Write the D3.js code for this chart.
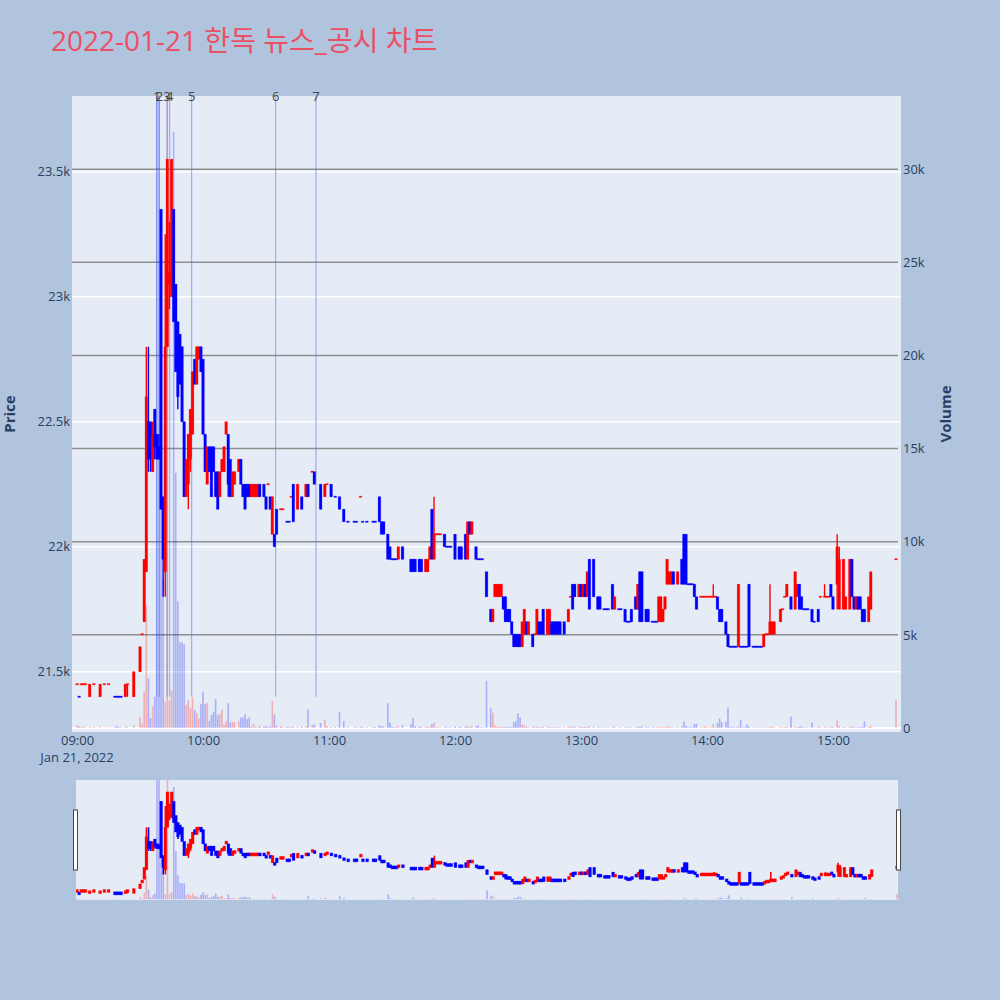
<!DOCTYPE html>
<html>
<head>
<meta charset="utf-8">
<script src="https://cdn.jsdelivr.net/npm/d3@7"></script>
<style>
  body { margin: 0; background: #b0c4de; }
  svg { display: block; font-family: "Open Sans", "Noto Sans CJK KR", sans-serif; }
</style>
</head>
<body>
<div id="chart"></div>
<script>
const titleText = "2022-01-21 한독 뉴스_공시 차트";

// minutes after 09:00 for each one-minute candle
const minutes = [
  0,1,2,3,4,6,8,11,13,15,
  18,19,20,21,23,24,27,30,31,32,
  33,34,35,36,37,38,39,40,41,42,
  43,44,45,46,47,48,49,50,51,52,
  53,54,55,56,57,58,59,60,61,62,
  63,64,65,66,67,68,69,70,71,72,
  73,74,75,77,78,79,80,81,82,83,
  84,85,86,87,89,90,91,92,93,94,
  95,97,98,100,101,102,103,105,107,109,
  110,112,113,116,118,119,121,123,125,127,
  129,132,133,135,136,138,141,142,144,145,
  146,148,149,150,151,152,153,155,159,160,
  161,163,164,166,167,168,169,170,171,172,
  173,175,176,177,178,180,182,183,185,186,
  187,188,190,191,192,193,195,197,198,199,
  200,201,202,203,204,205,206,207,208,209,
  210,211,212,213,214,215,217,218,219,220,
  221,222,224,225,226,227,228,229,230,232,
  234,235,236,237,239,240,241,242,243,244,
  246,248,249,251,252,253,255,256,258,259,
  261,262,263,264,266,267,268,269,271,272,
  274,275,276,277,278,279,280,281,282,283,
  284,286,288,289,290,291,292,293,294,295,
  297,298,299,300,301,302,303,304,305,306,
  307,309,310,311,312,313,314,315,316,317,
  318,319,320,322,323,324,325,326,327,328,
  329,330,331,332,335,336,337,338,340,342,
  343,344,345,346,347,348,350,351,353,354,
  356,357,358,359,360,362,363,365,366,368,
  369,370,371,372,373,374,375,377,378,390
];

const opens = [
  21450,21400,21450,21450,21450,21400,21450,21400,21450,21450,
  21400,21400,21400,21400,21400,21450,21400,21500,21650,21700,
  21900,22500,22500,22300,22550,22450,22400,23350,22200,21900,
  22800,23050,23000,23350,23050,22900,22850,22800,22500,22200,
  22250,22350,22450,22750,22650,22750,22800,22750,22450,22250,
  22400,22400,22400,22300,22300,22200,22300,22300,22450,22450,
  22350,22200,22250,22300,22350,22250,22250,22250,22250,22200,
  22200,22200,22200,22250,22250,22200,22250,22200,22050,22050,
  22150,22150,22150,22100,22100,22200,22250,22150,22200,22200,
  22250,22300,22300,22250,22200,22250,22250,22200,22200,22150,
  22100,22100,22100,22200,22100,22100,22100,22100,22200,22100,
  22100,22050,22000,21950,21950,21950,21950,22000,21950,21950,
  21950,21950,21950,21900,21900,21950,22150,21950,22050,22050,
  22050,22050,22000,22000,22000,22050,22000,22000,22050,21950,
  22100,22050,22000,21950,21950,21950,21900,21750,21700,21800,
  21800,21800,21800,21800,21800,21750,21750,21700,21650,21650,
  21650,21650,21600,21650,21700,21650,21650,21650,21650,21700,
  21700,21750,21650,21650,21700,21700,21700,21700,21700,21700,
  21700,21800,21850,21850,21800,21850,21800,21850,21800,21950,
  21950,21800,21800,21750,21750,21750,21850,21750,21750,21750,
  21750,21700,21700,21750,21800,21750,21900,21900,21750,21750,
  21700,21700,21700,21700,21700,21700,21750,21850,21850,21850,
  21900,21850,21950,22050,22050,21850,21850,21850,21850,21800,
  21800,21800,21800,21800,21800,21800,21800,21800,21800,21750,
  21750,21700,21650,21600,21600,21600,21600,21600,21600,21600,
  21600,21600,21850,21600,21600,21600,21600,21600,21600,21650,
  21650,21650,21650,21650,21700,21750,21800,21800,21800,21750,
  21800,21850,21800,21750,21750,21750,21750,21700,21750,21800,
  21800,21800,21800,21850,21800,21850,21750,21750,21750,21750,
  21950,21800,21750,21800,21800,21750,21750,21700,21750,21950
];

const highs = [
  21450,21400,21450,21450,21450,21450,21450,21450,21450,21450,
  21400,21400,21400,21400,21450,21450,21500,21600,21650,21950,
  22800,22800,22500,22500,22550,22450,22450,23350,22200,23250,
  23550,23300,23550,23350,23050,22900,22850,22800,22500,22350,
  22450,22550,22700,22750,22800,22800,22800,22750,22450,22400,
  22400,22400,22400,22300,22300,22300,22350,22400,22500,22450,
  22350,22300,22300,22350,22350,22250,22250,22250,22250,22250,
  22250,22250,22250,22250,22250,22200,22250,22200,22200,22050,
  22150,22150,22150,22100,22100,22200,22250,22250,22200,22250,
  22250,22300,22300,22250,22250,22250,22250,22200,22200,22150,
  22100,22100,22100,22200,22100,22100,22100,22100,22200,22100,
  22100,22050,22000,21950,21950,21950,22000,22000,21950,21950,
  21950,21950,21950,21950,21950,22000,22150,22200,22050,22050,
  22050,22050,22000,22000,22000,22050,22000,22000,22050,22100,
  22100,22100,22000,21950,21950,21950,21900,21750,21750,21850,
  21850,21850,21850,21800,21800,21750,21750,21700,21650,21650,
  21650,21650,21700,21750,21700,21700,21650,21650,21750,21700,
  21700,21750,21750,21750,21700,21700,21700,21700,21700,21700,
  21750,21800,21850,21850,21850,21850,21850,21850,21900,21950,
  21950,21800,21800,21750,21750,21750,21850,21800,21750,21750,
  21750,21700,21700,21750,21800,21850,21900,21900,21750,21750,
  21700,21700,21700,21800,21800,21750,21800,21950,21900,21900,
  21900,21900,21950,22050,22050,21850,21850,21850,21850,21800,
  21800,21800,21800,21800,21800,21800,21850,21800,21800,21750,
  21750,21700,21650,21600,21600,21600,21600,21850,21600,21600,
  21600,21600,21850,21600,21600,21600,21600,21600,21650,21650,
  21650,21850,21700,21700,21750,21750,21800,21850,21800,21900,
  21850,21850,21800,21750,21750,21750,21750,21700,21750,21800,
  21850,21800,21800,21850,21800,22050,22000,21950,21800,21950,
  21950,21800,21800,21800,21800,21750,21750,21800,21900,21950
];

const lows = [
  21450,21400,21450,21450,21450,21400,21450,21400,21450,21450,
  21400,21400,21400,21400,21400,21400,21400,21500,21650,21700,
  21900,22300,22300,22300,22350,22350,22350,22150,21800,21800,
  22800,22950,23000,22900,22700,22550,22650,22500,22200,22200,
  22150,22300,22450,22650,22650,22750,22700,22450,22300,22250,
  22300,22200,22300,22200,22150,22200,22300,22300,22450,22200,
  22200,22200,22250,22300,22250,22200,22150,22200,22200,22200,
  22200,22200,22200,22200,22200,22150,22250,22150,22050,22000,
  22050,22150,22150,22100,22100,22200,22100,22150,22150,22200,
  22200,22300,22250,22150,22200,22250,22200,22200,22150,22100,
  22100,22100,22100,22200,22100,22100,22100,22100,22100,22050,
  22050,21950,21950,21950,21950,21950,21950,21950,21900,21900,
  21900,21900,21900,21900,21900,21950,21950,21950,22050,22050,
  22050,22000,22000,22000,22000,21950,21950,21950,21950,21950,
  22050,22050,21950,21950,21950,21950,21800,21700,21700,21800,
  21800,21800,21800,21750,21700,21700,21700,21650,21600,21600,
  21600,21600,21600,21650,21650,21650,21600,21650,21650,21650,
  21650,21650,21650,21650,21650,21650,21650,21650,21650,21650,
  21700,21800,21750,21800,21800,21800,21800,21800,21800,21750,
  21800,21750,21750,21750,21750,21750,21750,21750,21750,21750,
  21700,21700,21700,21700,21750,21750,21700,21700,21700,21700,
  21700,21700,21700,21700,21700,21700,21750,21850,21850,21850,
  21850,21850,21850,21850,21850,21850,21850,21850,21800,21750,
  21800,21800,21800,21800,21800,21800,21800,21800,21750,21700,
  21700,21650,21600,21600,21600,21600,21600,21600,21600,21600,
  21600,21600,21600,21600,21600,21600,21600,21600,21600,21650,
  21650,21650,21650,21650,21700,21750,21800,21800,21750,21750,
  21800,21750,21750,21750,21750,21750,21700,21700,21700,21800,
  21800,21800,21800,21800,21750,21750,21750,21750,21750,21750,
  21800,21750,21750,21750,21750,21700,21700,21700,21750,21950
];

const closes = [
  21450,21400,21450,21450,21450,21450,21450,21450,21450,21450,
  21400,21400,21400,21400,21450,21450,21500,21600,21650,21950,
  22600,22350,22350,22450,22400,22350,22350,22150,21950,22800,
  23550,23100,23550,22900,22700,22600,22650,22500,22200,22350,
  22450,22550,22700,22650,22800,22800,22700,22450,22300,22400,
  22300,22200,22300,22200,22150,22300,22350,22400,22500,22250,
  22200,22300,22300,22350,22250,22200,22150,22200,22200,22250,
  22250,22250,22250,22200,22200,22150,22250,22150,22200,22000,
  22050,22150,22150,22100,22100,22200,22100,22250,22150,22250,
  22200,22300,22250,22150,22250,22250,22200,22200,22150,22100,
  22100,22100,22100,22200,22100,22100,22100,22100,22100,22050,
  22050,21950,21950,21950,21950,21950,22000,21950,21900,21900,
  21900,21900,21900,21950,21950,22000,21950,22050,22050,22050,
  22050,22000,22000,22000,22000,21950,21950,21950,21950,22100,
  22050,22100,21950,21950,21950,21950,21800,21700,21750,21850,
  21850,21850,21850,21750,21700,21700,21700,21650,21600,21600,
  21600,21600,21700,21750,21650,21700,21600,21650,21750,21650,
  21650,21650,21750,21750,21650,21650,21650,21650,21650,21650,
  21750,21800,21750,21800,21850,21800,21850,21800,21900,21750,
  21800,21750,21750,21750,21750,21750,21750,21800,21750,21750,
  21700,21700,21700,21700,21750,21850,21700,21700,21700,21700,
  21700,21700,21700,21800,21800,21750,21800,21950,21900,21900,
  21850,21900,21850,21850,21850,21850,21850,21850,21800,21750,
  21800,21800,21800,21800,21800,21800,21800,21800,21750,21700,
  21700,21650,21600,21600,21600,21600,21600,21850,21600,21600,
  21600,21600,21600,21600,21600,21600,21600,21600,21650,21650,
  21650,21700,21700,21700,21750,21750,21800,21850,21750,21900,
  21850,21750,21750,21750,21750,21750,21700,21700,21700,21800,
  21800,21800,21800,21800,21750,22000,21950,21950,21800,21950,
  21800,21750,21800,21750,21750,21700,21700,21800,21900,21950
];

const volumes = [
  150,80,50,50,50,60,40,60,30,30,
  50,120,40,40,60,50,150,600,250,1950,
  6600,2670,540,1180,1680,36000,35000,12000,8000,1400,
  36000,1500,2000,32000,13700,6800,4600,4600,4500,1240,
  1500,1070,1660,970,790,520,1290,1950,1290,1340,
  380,700,880,1560,700,760,970,190,370,1330,
  300,330,330,370,560,560,740,470,580,80,
  230,60,50,120,80,100,60,80,1450,740,
  110,110,50,60,40,50,60,50,60,80,
  1000,160,190,270,430,110,60,50,880,370,
  50,40,40,60,50,40,50,40,150,100,
  80,1330,300,60,40,40,100,150,200,540,
  100,80,60,60,60,50,200,300,50,40,
  40,50,40,30,30,80,60,50,80,100,
  60,100,80,150,40,40,2540,1060,820,150,
  80,60,60,50,80,60,50,60,330,370,
  790,575,200,150,60,50,80,50,60,40,
  40,60,60,50,40,40,40,40,40,40,
  60,100,60,50,50,50,50,60,60,80,
  60,40,40,30,30,30,60,50,30,30,
  40,30,30,40,50,60,80,80,40,40,
  30,30,30,60,50,40,40,100,60,50,
  40,50,80,340,120,40,40,40,220,220,
  40,40,80,30,30,30,220,40,270,520,
  320,340,1090,40,40,40,40,80,430,40,
  40,200,80,30,30,30,30,30,50,30,
  30,60,50,40,50,30,40,60,610,60,
  50,60,100,30,30,30,300,30,50,40,
  50,30,30,40,50,390,100,60,40,80,
  60,40,40,40,40,60,360,60,100,1500
];

// news / disclosure markers (minutes after 09:00) and their labels
const newsMinutes = [37.95, 39.2, 42.86, 44.14, 54.6, 94.6, 113.8];
const newsLabels = ["1", "2", "3", "4", "5", "6", "7"];

const priceTicks = [21500, 22000, 22500, 23000, 23500];
const priceTickLabels = ["21.5k", "22k", "22.5k", "23k", "23.5k"];
const volumeTicks = [0, 5000, 10000, 15000, 20000, 25000, 30000];
const volumeTickLabels = ["0", "5k", "10k", "15k", "20k", "25k", "30k"];
const tickHours = [9, 10, 11, 12, 13, 14, 15];

const incColor = "#ff0000";
const decColor = "#0000ff";
const textColor = "#2a3f5f";

const toDate = m => new Date(2022, 0, 21, 9, 0, 0, 0).getTime() + m * 60000;

// plotly-like direction rule: equal open/close looks at previous close
let prevClose = null, prevInc = true;
const candles = minutes.map((m, i) => {
  const o = opens[i], h = highs[i], l = lows[i], c = closes[i];
  let inc;
  if (c > o) inc = true;
  else if (c < o) inc = false;
  else if (prevClose === null) inc = true;
  else if (c > prevClose) inc = true;
  else if (c < prevClose) inc = false;
  else inc = prevInc;
  prevClose = c;
  prevInc = inc;
  return { t: toDate(m), o, h, l, c, v: volumes[i], inc };
});

const plot = { left: 72, right: 901, top: 96, bottom: 732 };
const slider = { left: 76, right: 898, top: 780, bottom: 900 };

const x = d3.scaleTime()
  .domain([toDate(-2.4), toDate(392.4)])
  .range([plot.left, plot.right]);
const yPrice = d3.scaleLinear().domain([21259, 23803]).range([plot.bottom, plot.top]);
const yVol = d3.scaleLinear().domain([-215, 33930]).range([plot.bottom, plot.top]);

const xs = d3.scaleTime()
  .domain([toDate(-0.5), toDate(390.5)])
  .range([slider.left, slider.right]);
const ysPrice = d3.scaleLinear().domain(yPrice.domain()).range([slider.bottom, slider.top]);
const ysVol = d3.scaleLinear().domain(yVol.domain()).range([slider.bottom, slider.top]);

const svg = d3.select("#chart")
  .append("svg")
  .attr("width", 1000)
  .attr("height", 1000);

svg.append("rect").attr("width", 1000).attr("height", 1000).attr("fill", "#b0c4de");

const defs = svg.append("defs");
defs.append("clipPath").attr("id", "clip-main")
  .append("rect")
  .attr("x", plot.left).attr("y", plot.top)
  .attr("width", plot.right - plot.left).attr("height", plot.bottom - plot.top);
defs.append("clipPath").attr("id", "clip-slider")
  .append("rect")
  .attr("x", slider.left).attr("y", slider.top)
  .attr("width", slider.right - slider.left).attr("height", slider.bottom - slider.top);

// title
svg.append("text")
  .attr("x", 51)
  .attr("y", 51)
  .attr("fill", "#eb4f65")
  .attr("font-size", 28)
  .text(titleText);

// main plot background and grids
svg.append("rect")
  .attr("x", plot.left).attr("y", plot.top)
  .attr("width", plot.right - plot.left).attr("height", plot.bottom - plot.top)
  .attr("fill", "#e5ecf6");

svg.append("g")
  .selectAll("line")
  .data(priceTicks)
  .join("line")
  .attr("x1", plot.left).attr("x2", plot.right)
  .attr("y1", d => yPrice(d)).attr("y2", d => yPrice(d))
  .attr("stroke", "#ffffff")
  .attr("stroke-width", 1.5);

svg.append("line")
  .attr("x1", plot.left).attr("x2", plot.right)
  .attr("y1", yVol(0)).attr("y2", yVol(0))
  .attr("stroke", "#ffffff")
  .attr("stroke-width", 2);

svg.append("g")
  .selectAll("line")
  .data(volumeTicks.filter(d => d > 0))
  .join("line")
  .attr("x1", plot.left).attr("x2", plot.right - 3)
  .attr("y1", d => yVol(d)).attr("y2", d => yVol(d))
  .attr("stroke", "#8f8f8f")
  .attr("stroke-width", 1.5);

function drawVolume(g, xScale, yScale) {
  g.selectAll("rect.vol")
    .data(candles)
    .join("rect")
    .attr("class", "vol")
    .attr("x", d => xScale(d.t) - 0.8)
    .attr("width", 1.6)
    .attr("y", d => yScale(d.v))
    .attr("height", d => yScale(0) - yScale(d.v))
    .attr("fill", d => (d.inc ? incColor : decColor))
    .attr("fill-opacity", 0.26);
}

function drawCandles(g, xScale, yScale, bodyW, wickW, minH) {
  g.selectAll("line.wick")
    .data(candles.filter(d => d.h > d.l))
    .join("line")
    .attr("class", "wick")
    .attr("x1", d => xScale(d.t)).attr("x2", d => xScale(d.t))
    .attr("y1", d => yScale(d.h)).attr("y2", d => yScale(d.l))
    .attr("stroke", d => (d.inc ? incColor : decColor))
    .attr("stroke-width", wickW);

  g.selectAll("rect.body")
    .data(candles)
    .join("rect")
    .attr("class", "body")
    .each(function (d) {
      let top = yScale(Math.max(d.o, d.c));
      let h = yScale(Math.min(d.o, d.c)) - top;
      if (h < minH) { top -= (minH - h) / 2; h = minH; }
      d3.select(this)
        .attr("x", xScale(d.t) - bodyW / 2)
        .attr("width", bodyW)
        .attr("y", top)
        .attr("height", h);
    })
    .attr("fill", d => (d.inc ? incColor : decColor))
    .attr("stroke", d => (d.inc ? incColor : decColor))
    .attr("stroke-opacity", 0.35)
    .attr("stroke-width", 0.8);
}

const main = svg.append("g").attr("clip-path", "url(#clip-main)");
drawVolume(main.append("g"), x, yVol);

// news markers
main.append("g")
  .selectAll("line")
  .data(newsMinutes)
  .join("line")
  .attr("x1", d => x(toDate(d))).attr("x2", d => x(toDate(d)))
  .attr("y1", yPrice(21400)).attr("y2", plot.top)
  .attr("stroke", "royalblue")
  .attr("stroke-opacity", 0.55)
  .attr("stroke-width", 1);

drawCandles(main.append("g"), x, yPrice, 2.6, 1.4, 1.3);

svg.append("g")
  .selectAll("text")
  .data(newsMinutes)
  .join("text")
  .attr("x", d => x(toDate(d)))
  .attr("y", plot.top + 5)
  .attr("text-anchor", "middle")
  .attr("font-size", 13)
  .attr("fill", "#444")
  .text((d, i) => newsLabels[i]);

// axes
const styleAxis = g => {
  g.select(".domain").remove();
  g.selectAll(".tick line").remove();
  g.selectAll("text").attr("fill", textColor).attr("font-size", 13)
    .attr("font-family", '"Open Sans", sans-serif');
};

svg.append("g")
  .attr("transform", `translate(${plot.left},0)`)
  .call(d3.axisLeft(yPrice).tickValues(priceTicks)
    .tickFormat((d, i) => priceTickLabels[i]).tickSize(0).tickPadding(2))
  .call(styleAxis);

svg.append("g")
  .attr("transform", `translate(${plot.right},0)`)
  .call(d3.axisRight(yVol).tickValues(volumeTicks)
    .tickFormat((d, i) => volumeTickLabels[i]).tickSize(0).tickPadding(2))
  .call(styleAxis);

svg.append("g")
  .attr("transform", `translate(0,${plot.bottom})`)
  .call(d3.axisBottom(x).tickValues(tickHours.map(h => new Date(2022, 0, 21, h)))
    .tickFormat(d3.timeFormat("%H:%M")).tickSize(0).tickPadding(4))
  .call(styleAxis);

svg.append("text")
  .attr("x", x(toDate(0)))
  .attr("y", 762)
  .attr("text-anchor", "middle")
  .attr("font-size", 13)
  .attr("fill", textColor)
  .text("Jan 21, 2022");

svg.append("text")
  .attr("transform", "translate(15,414) rotate(-90)")
  .attr("text-anchor", "middle")
  .attr("font-size", 15)
  .attr("font-weight", "bold")
  .attr("fill", textColor)
  .text("Price");

svg.append("text")
  .attr("transform", "translate(951,414) rotate(-90)")
  .attr("text-anchor", "middle")
  .attr("font-size", 15)
  .attr("font-weight", "bold")
  .attr("fill", textColor)
  .text("Volume");

// range slider
svg.append("rect")
  .attr("x", slider.left).attr("y", slider.top)
  .attr("width", slider.right - slider.left).attr("height", slider.bottom - slider.top)
  .attr("fill", "#e5ecf6");

const mini = svg.append("g").attr("clip-path", "url(#clip-slider)");
drawVolume(mini.append("g"), xs, ysVol);
drawCandles(mini.append("g"), xs, ysPrice, 2.8, 1.6, 3);

[slider.left - 2.5, slider.right - 1.5].forEach(hx => {
  svg.append("rect")
    .attr("x", hx).attr("y", 810)
    .attr("width", 4).attr("height", 60)
    .attr("fill", "#ffffff")
    .attr("stroke", "#444")
    .attr("stroke-width", 1);
});
</script>
</body>
</html>
